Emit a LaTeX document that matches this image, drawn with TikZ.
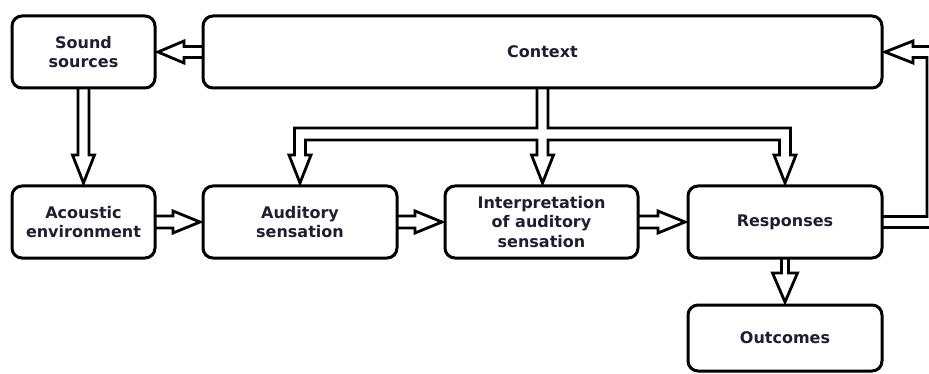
\documentclass[tikz,border=0pt]{standalone}
\usepackage{fontspec}
\setmainfont{DejaVu Sans}
\usetikzlibrary{calc}
\definecolor{txt}{RGB}{30,30,50}

% hollow block arrows: #1 start, #2 tip, #3 shaft half-width, #4 head half-width, #5 head length
\newcommand\harrowR[5]{\draw[hollow] let \p1=(#1), \p2=(#2) in
  (\x1,\y1+#3pt) -- (\x2-#5pt,\y1+#3pt) -- (\x2-#5pt,\y1+#4pt) -- (\x2,\y1)
  -- (\x2-#5pt,\y1-#4pt) -- (\x2-#5pt,\y1-#3pt) -- (\x1,\y1-#3pt);}
\newcommand\harrowL[5]{\draw[hollow] let \p1=(#1), \p2=(#2) in
  (\x1,\y1+#3pt) -- (\x2+#5pt,\y1+#3pt) -- (\x2+#5pt,\y1+#4pt) -- (\x2,\y1)
  -- (\x2+#5pt,\y1-#4pt) -- (\x2+#5pt,\y1-#3pt) -- (\x1,\y1-#3pt);}
\newcommand\varrowD[5]{\draw[hollow] let \p1=(#1), \p2=(#2) in
  (\x1-#3pt,\y1) -- (\x1-#3pt,\y2+#5pt) -- (\x1-#4pt,\y2+#5pt) -- (\x1,\y2)
  -- (\x1+#4pt,\y2+#5pt) -- (\x1+#3pt,\y2+#5pt) -- (\x1+#3pt,\y1);}

\begin{document}
\begin{tikzpicture}[x=1pt,y=-1pt,
  box/.style={draw, line width=3pt, rounded corners=10pt, inner sep=0pt,
    outer sep=0pt, align=center, text=txt,
    font=\bfseries\fontsize{16}{19.5}\selectfont},
  hollow/.style={draw, line width=2.8pt, line join=miter, miter limit=10}]
\useasboundingbox (0,0) rectangle (929,374);

% boxes
\node[box, minimum width=143pt, minimum height=72pt] (snd) at (83.5,52) {Sound\\sources};
\node[box, minimum width=679pt, minimum height=72pt] (ctx) at (542.5,52) {Context};
\node[box, minimum width=143pt, minimum height=72pt] (acou) at (83.5,222) {Acoustic\\environment};
\node[box, minimum width=194pt, minimum height=72pt] (aud) at (300,222) {Auditory\\sensation};
\node[box, minimum width=193pt, minimum height=72pt] (interp) at (541.5,222) {Interpretation\\of auditory\\sensation};
\node[box, minimum width=194pt, minimum height=72pt] (resp) at (785,222) {Responses};
\node[box, minimum width=194pt, minimum height=66pt] (outc) at (785,338) {Outcomes};

% arrow tips stop just short of the target boxes
\coordinate (tSnd) at ($(snd.east)+(3,0)$);
\coordinate (tAcou) at ($(acou.north)+(0,-3)$);
\coordinate (tAud) at ($(aud.west)+(-3,0)$);
\coordinate (tInterp) at ($(interp.west)+(-3,0)$);
\coordinate (tResp) at ($(resp.west)+(-3,0)$);
\coordinate (tOutc) at ($(outc.north)+(0,-3)$);

% straight arrows
\harrowL{ctx.west}{tSnd}{5.5}{11}{26}
\varrowD{snd.south}{tAcou}{5.5}{11}{28}
\harrowR{acou.east}{tAud}{6}{11}{27}
\harrowR{aud.east}{tInterp}{6}{11}{27}
\harrowR{interp.east}{tResp}{6}{11}{27}
\varrowD{resp.south}{tOutc}{3.5}{12.5}{29}

% context branching down to three boxes
\draw[hollow] let \p1=(ctx.south), \p2=(aud.north), \p4=(resp.north) in
  (\x1-5.5pt,\y1) -- (\x1-5.5pt,\y1-40pt) -- (\x2-5.5pt,\y1-40pt)
  -- (\x2-5.5pt,\y2+31pt) -- (\x2-11pt,\y2+31pt) -- (\x2,\y2+3pt)
  -- (\x2+11pt,\y2+31pt) -- (\x2+5.5pt,\y2+31pt) -- (\x2+5.5pt,\y1-52pt)
  -- (\x1-5.5pt,\y1-52pt) -- (\x1-5.5pt,\y2+31pt) -- (\x1-11pt,\y2+31pt)
  -- (\x1,\y2+3pt) -- (\x1+11pt,\y2+31pt) -- (\x1+5.5pt,\y2+31pt)
  -- (\x1+5.5pt,\y1-52pt) -- (\x4-5.5pt,\y1-52pt) -- (\x4-5.5pt,\y2+31pt)
  -- (\x4-11pt,\y2+31pt) -- (\x4,\y2+3pt) -- (\x4+11pt,\y2+31pt)
  -- (\x4+5.5pt,\y2+31pt) -- (\x4+5.5pt,\y1-40pt) -- (\x1+5.5pt,\y1-40pt)
  -- (\x1+5.5pt,\y1);

% feedback from responses back to context
\draw[hollow] let \p1=(resp.east), \p2=(ctx.east), \n1={\x1+51pt} in
  (\x1,\y1+5.5pt) -- (\n1-6pt,\y1+5.5pt) -- (\n1-6pt,\y2-5.5pt)
  -- (\x2+31pt,\y2-5.5pt) -- (\x2+31pt,\y2-11pt) -- (\x2+3pt,\y2)
  -- (\x2+31pt,\y2+11pt) -- (\x2+31pt,\y2+5.5pt) -- (\n1+6pt,\y2+5.5pt)
  -- (\n1+6pt,\y1-5.5pt) -- (\x1,\y1-5.5pt);
\end{tikzpicture}
\end{document}
